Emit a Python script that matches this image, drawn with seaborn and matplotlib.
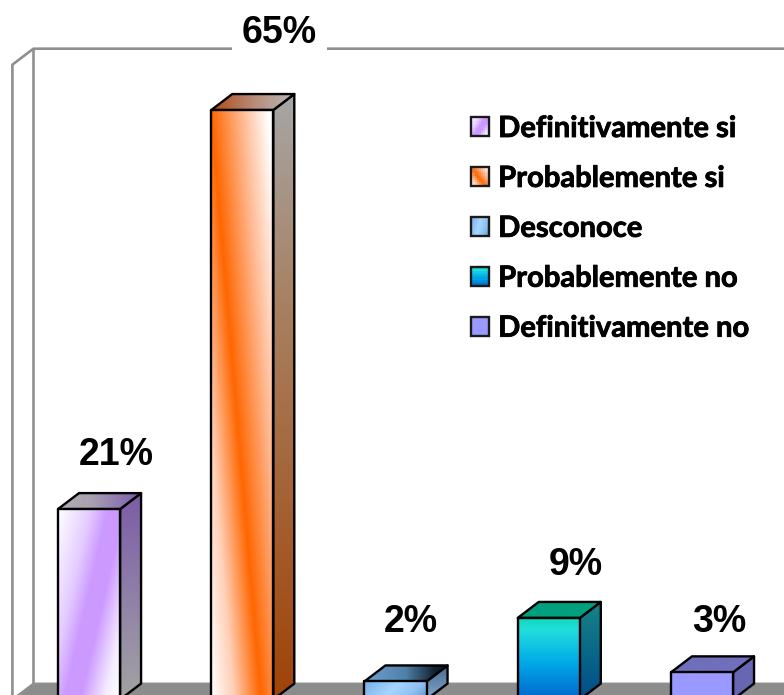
import matplotlib
matplotlib.use("Agg")
import matplotlib.pyplot as plt
import matplotlib.patheffects as pe
from matplotlib.colors import LinearSegmentedColormap
from matplotlib.legend_handler import HandlerBase
from matplotlib.patches import Polygon, Rectangle
import numpy as np
import pandas as pd
import seaborn as sns

categories = ["Definitivamente si", "Probablemente si", "Desconoce", "Probablemente no", "Definitivamente no"]
values = [21, 65, 2, 9, 3]
value_labels = ["21%", "65%", "2%", "9%", "3%"]
base_colors = ["#CC99FF", "#FF6600", "#99CCFF", "#00AAE8", "#9999FF"]

# offset of each label from the middle of the bar top, pixels
label_dx = [27, 37, 15, 27, 17]
label_dy = [54, 77, 59, 53, 50]

AXIS_MAX = 70
DEPTH_X = 0.137
DEPTH_Y = 1.76
WALL = "#8F8F8F"


# gradient = (weight of u, weight of v, stops), u to the right and v downward, 0..1 over the face
def grad(cu, cv, stops):
    return cu, cv, LinearSegmentedColormap.from_list("g", stops)


front = [
    grad(1, 0.7, [(0, "#FFFFFF"), (0.3, "#E4CCFF"), (0.47, "#CC99FF"), (0.62, "#CC99FF"), (0.85, "#F6ECFF"), (1, "#FFFFFF")]),
    grad(1, -0.8, [(0, "#FFFFFF"), (0.2, "#FFD0B8"), (0.44, "#FF6600"), (0.7, "#FFB48A"), (0.95, "#FFFFFF"), (1, "#FFFFFF")]),
    grad(1, 0.3, [(0, "#77AEE8"), (0.45, "#A6D6FF"), (0.75, "#8CC0F0"), (1, "#5F90C0")]),
    grad(0, 1, [(0, "#0ED8B4"), (0.15, "#22DDDD"), (0.55, "#00AAE8"), (1, "#0066CC")]),
    grad(0, 1, [(0, "#9999FF"), (1, "#9999FF")]),
]
side = [
    grad(0, 1, [(0, "#7C5CA6"), (0.5, "#8F80A8"), (1, "#A3A3A3")]),
    grad(0, 1, [(0, "#A6A6A6"), (0.35, "#A88060"), (1, "#A04308")]),
    grad(0, 1, [(0, "#4A6A8C"), (1, "#7FA8D0")]),
    grad(0, 1, [(0, "#168488"), (1, "#004C88")]),
    grad(0, 1, [(0, "#6666B3"), (1, "#6666B3")]),
]
top = [
    grad(1, 0, [(0, "#B0B0B0"), (0.4, "#A8A0B0"), (1, "#7C58B0")]),
    grad(1, 0, [(0, "#B04A14"), (0.55, "#B89080"), (1, "#B8B8B8")]),
    grad(1, 0, [(0, "#6F9FD0"), (0.5, "#5080A8"), (0.85, "#102030"), (1, "#101820")]),
    grad(1, 0, [(0, "#00A080"), (1, "#00A080")]),
    grad(1, 0, [(0, "#6F6FBB"), (1, "#6F6FBB")]),
]


def shade(g, u, v):
    cu, cv, cmap = g
    lo = min(0, cu) + min(0, cv)
    hi = max(0, cu) + max(0, cv)
    return cmap((cu * u + cv * v - lo) / (hi - lo))


def draw_face(ax, verts, g, z):
    verts = np.array(verts)
    poly = Polygon(verts, closed=True, fill=False, edgecolor="black", linewidth=1.7, joinstyle="round", zorder=z + 0.1)
    ax.add_patch(poly)
    u, v = np.meshgrid(np.linspace(0, 1, 128), np.linspace(0, 1, 256))
    im = ax.imshow(shade(g, u, v), aspect="auto", interpolation="bilinear", zorder=z,
                   extent=(verts[:, 0].min(), verts[:, 0].max(), verts[:, 1].min(), verts[:, 1].max()))
    im.set_clip_path(Polygon(verts, closed=True, transform=ax.transData))


class GradientSwatch(HandlerBase):
    def __init__(self, g):
        super().__init__()
        self.g = g

    def create_artists(self, legend, orig_handle, xdescent, ydescent, width, height, fontsize, trans):
        cells = []
        n = 9
        for i in range(n):
            for j in range(n):
                c = shade(self.g, (i + 0.5) / n, (j + 0.5) / n)
                cells.append(Rectangle((-xdescent + width * i / n, -ydescent + height * (n - 1 - j) / n),
                                       width / n + 0.05, height / n + 0.05, facecolor=c, edgecolor="none",
                                       antialiased=False, transform=trans))
        cells.append(Rectangle((-xdescent, -ydescent), width, height, fill=False, edgecolor="#1A1A1A",
                               linewidth=1.7, transform=trans))
        return cells


sns.set_theme(style="white")
plt.rcParams["font.family"] = ["Liberation Sans", "DejaVu Sans"]

df = pd.DataFrame({"respuesta": categories, "pct": values})

fig = plt.figure(figsize=(7.84, 6.95), dpi=100)
ax = fig.add_axes([0, 0, 1, 1])
sns.barplot(data=df, x="respuesta", y="pct", hue="respuesta", palette=base_colors, order=categories,
            hue_order=categories, width=0.405, legend=False, ax=ax)
bars = sorted(ax.patches, key=lambda p: p.get_x())
ax.set_axis_off()

# walls and floor of the 3d box
ax.add_patch(Polygon([(-0.5, 0), (-0.5 + DEPTH_X, DEPTH_Y), (4.5 + DEPTH_X, DEPTH_Y), (4.5, 0)],
                     closed=True, facecolor="#8C8C8C", edgecolor=WALL, linewidth=1.5, zorder=1.5))
ax.plot([-0.5, -0.5, -0.5 + DEPTH_X, 4.5 + DEPTH_X], [0, AXIS_MAX, AXIS_MAX + DEPTH_Y, AXIS_MAX + DEPTH_Y],
        color=WALL, linewidth=1.9, zorder=1.6)
ax.plot([-0.5 + DEPTH_X, -0.5 + DEPTH_X], [DEPTH_Y, AXIS_MAX + DEPTH_Y], color=WALL, linewidth=1.9, zorder=1.6)

for i, bar in enumerate(bars):
    x0, x1 = bar.get_x(), bar.get_x() + bar.get_width()
    h = bar.get_height()
    bar.set_visible(False)
    z = 3 + i
    draw_face(ax, [(x1, 0), (x1 + DEPTH_X, DEPTH_Y), (x1 + DEPTH_X, h + DEPTH_Y), (x1, h)], side[i], z)
    draw_face(ax, [(x0, h), (x0 + DEPTH_X, h + DEPTH_Y), (x1 + DEPTH_X, h + DEPTH_Y), (x1, h)], top[i], z + 0.2)
    draw_face(ax, [(x0, 0), (x0, h), (x1, h), (x1, 0)], front[i], z + 0.4)
    box = dict(facecolor="white", edgecolor="none", pad=7) if values[i] == max(values) else None
    ax.annotate(value_labels[i], xy=((x0 + x1) / 2, h), xytext=(label_dx[i] * 0.72, label_dy[i] * 0.72),
                textcoords="offset points", ha="center", va="center", fontsize=27, fontweight="bold",
                color="black", bbox=box, zorder=10)

ax.set_xlim(-0.581, 4.535)
ax.set_ylim(0.5, 77.13)

leg = ax.legend(bars, categories, handler_map={b: GradientSwatch(front[i]) for i, b in enumerate(bars)},
                loc="upper left", bbox_to_anchor=(471 / 784, 1 - 116 / 695), bbox_transform=fig.transFigure,
                frameon=False, borderpad=0, borderaxespad=0, handlelength=0.62, handleheight=0.62,
                handletextpad=0.31, labelspacing=0.82,
                prop={"family": "Lato", "weight": "bold", "size": 21})
for t in leg.get_texts():
    t.set_color("black")
    t.set_path_effects([pe.withStroke(linewidth=0.6, foreground="black")])
leg.set_zorder(20)

fig.savefig("out.png", dpi=100)
